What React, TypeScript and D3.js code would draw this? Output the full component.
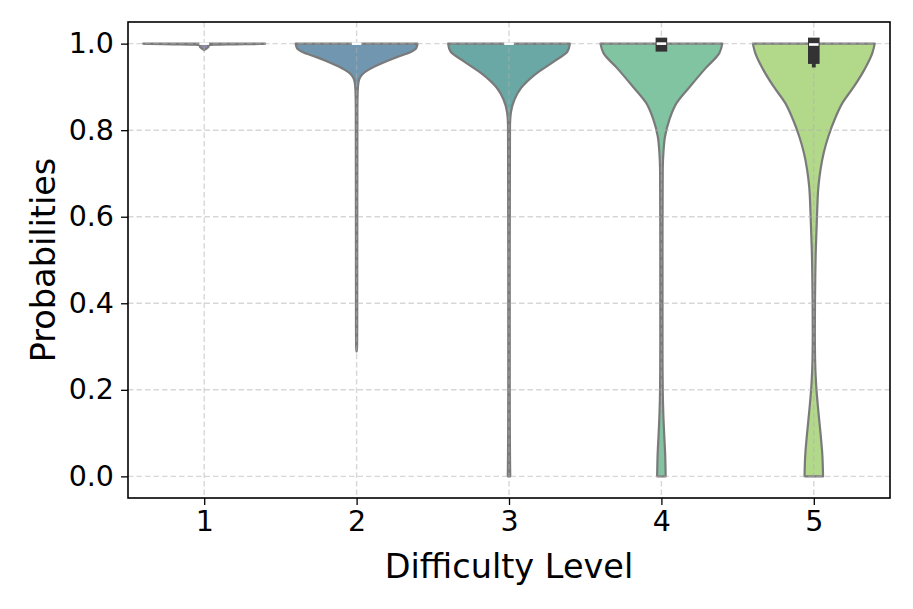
import { useRef, useEffect } from "react";
import * as d3 from "d3";

const levels = ["1", "2", "3", "4", "5"];
const colors = ["#8e8aa8", "#7096b0", "#6aa8a5", "#80c4a2", "#b2d88a"];
const yTicks = [0, 0.2, 0.4, 0.6, 0.8, 1.0];

// [probability, relative half-width]
const level1: [number, number][] = [
  [1.0, 1.0], [0.9992, 0.9], [0.9984, 0.5], [0.9975, 0.15], [0.996, 0.06],
  [0.993, 0.07], [0.99, 0.05], [0.987, 0.02], [0.985, 0],
];
const level2: [number, number][] = [
  [1.0, 1.0], [0.99, 0.98], [0.98, 0.88], [0.97, 0.68], [0.96, 0.5],
  [0.95, 0.34], [0.94, 0.2], [0.93, 0.1], [0.92, 0.05], [0.91, 0.03],
  [0.89, 0.018], [0.85, 0.013], [0.6, 0.011], [0.35, 0.01], [0.3, 0.008], [0.289, 0],
];
const level3: [number, number][] = [
  [1.0, 1.0], [0.982, 0.96], [0.959, 0.74], [0.928, 0.42], [0.898, 0.2],
  [0.871, 0.09], [0.84, 0.03], [0.81, 0.016], [0.5, 0.012], [0.2, 0.012],
  [0.05, 0.016], [0.0, 0.02],
];
const level4: [number, number][] = [
  [1.0, 1.0], [0.978, 0.95], [0.944, 0.73], [0.901, 0.47], [0.863, 0.25],
  [0.824, 0.13], [0.786, 0.06], [0.748, 0.033], [0.709, 0.022], [0.5, 0.018],
  [0.3, 0.018], [0.2, 0.022], [0.15, 0.03], [0.1, 0.045], [0.05, 0.062], [0.0, 0.07],
];
const level5: [number, number][] = [
  [1.0, 1.0], [0.978, 0.96], [0.94, 0.83], [0.901, 0.66], [0.863, 0.47],
  [0.824, 0.34], [0.786, 0.24], [0.748, 0.163], [0.709, 0.11], [0.67, 0.076],
  [0.609, 0.054], [0.524, 0.033], [0.409, 0.02], [0.333, 0.017], [0.27, 0.021],
  [0.208, 0.04], [0.15, 0.075], [0.1, 0.11], [0.05, 0.14], [0.0, 0.152],
];
const profiles = [level1, level2, level3, level4, level5];

// inner box stats
const medians = [1.0, 1.0, 1.0, 1.0, 0.998];
const q1s = [1.0, 1.0, 1.0, 0.9954, 0.967];
const q3s = [1.0, 1.0, 1.0, 1.0, 1.0];
const whiskerLows = [1.0, 1.0, 1.0, 0.9954, 0.945];

const W = 913;
const H = 609;

function App() {
  const ref = useRef<SVGSVGElement | null>(null);

  useEffect(() => {
    if (!ref.current) return;

    const margin = { top: 22, right: 23, bottom: 111, left: 128 };
    const innerWidth = W - margin.left - margin.right;
    const innerHeight = H - margin.top - margin.bottom;
    const font = "DejaVu Sans, sans-serif";

    const svg = d3.select(ref.current).html("");
    const g = svg
      .append("g")
      .attr("transform", `translate(${margin.left},${margin.top})`);

    const x = d3.scaleLinear().domain([-0.5, levels.length - 0.5]).range([0, innerWidth]);
    const y = d3.scaleLinear().domain([-0.05, 1.05]).range([innerHeight, 0]);
    const step = x(1) - x(0);
    const w = d3.scaleLinear().domain([0, 1]).range([0, 0.4 * step]);

    // violins
    profiles.forEach((prof, i) => {
      const area = d3
        .area<[number, number]>()
        .y((d) => y(d[0]))
        .x0((d) => x(i) - w(d[1]))
        .x1((d) => x(i) + w(d[1]))
        .curve(d3.curveMonotoneY);
      g.append("path")
        .datum(prof)
        .attr("d", area as any)
        .attr("fill", colors[i])
        .attr("stroke", "#7a7a7a")
        .attr("stroke-width", 2.2)
        .attr("stroke-linejoin", "round");
    });

    // grid on top of bodies
    const grid = g.append("g")
      .attr("stroke", "#b0b0b0")
      .attr("stroke-opacity", 0.5)
      .attr("stroke-width", 1.4)
      .attr("stroke-dasharray", "5.5,3");
    yTicks.forEach((t) => {
      grid.append("line").attr("x1", 0).attr("x2", innerWidth).attr("y1", y(t)).attr("y2", y(t));
    });
    levels.forEach((_, i) => {
      grid.append("line").attr("x1", x(i)).attr("x2", x(i)).attr("y1", 0).attr("y2", innerHeight);
    });

    // inner boxes
    levels.forEach((_, i) => {
      const cx = x(i);
      if (whiskerLows[i] < q1s[i]) {
        g.append("line")
          .attr("x1", cx).attr("x2", cx)
          .attr("y1", y(q1s[i])).attr("y2", y(whiskerLows[i]))
          .attr("stroke", "#333333")
          .attr("stroke-width", 3.8);
      }
      if (q1s[i] < q3s[i]) {
        g.append("rect")
          .attr("x", cx - 5.8)
          .attr("width", 11.6)
          .attr("y", y(q3s[i]) - 6)
          .attr("height", y(q1s[i]) - y(q3s[i]) + 12)
          .attr("fill", "#333333");
      }
      g.append("rect")
        .attr("x", cx - 4.8)
        .attr("width", 9.6)
        .attr("y", y(medians[i]) - 1.3)
        .attr("height", 2.6)
        .attr("fill", "#ffffff");
    });

    // axes
    const yAxis = g.append("g")
      .call(d3.axisLeft(y).tickValues(yTicks).tickFormat(d3.format(".1f")).tickSize(7).tickPadding(7));
    yAxis.select(".domain").remove();
    yAxis.selectAll("line").attr("stroke", "#000").attr("stroke-width", 1.3);
    yAxis.selectAll("text").attr("font-family", font).attr("font-size", 28.5).attr("fill", "#000");

    const xAxis = g.append("g")
      .attr("transform", `translate(0,${innerHeight})`)
      .call(
        d3.axisBottom(x)
          .tickValues(levels.map((_, i) => i))
          .tickFormat((d: any) => levels[d])
          .tickSize(7)
          .tickPadding(6)
      );
    xAxis.select(".domain").remove();
    xAxis.selectAll("line").attr("stroke", "#000").attr("stroke-width", 1.3);
    xAxis.selectAll("text").attr("font-family", font).attr("font-size", 28.5).attr("fill", "#000");

    // frame
    g.append("rect")
      .attr("width", innerWidth)
      .attr("height", innerHeight)
      .attr("fill", "none")
      .attr("stroke", "#000")
      .attr("stroke-width", 1.6);

    // labels
    svg.append("text")
      .attr("x", margin.left + innerWidth / 2)
      .attr("y", 578)
      .attr("text-anchor", "middle")
      .attr("font-family", font)
      .attr("font-size", 33.5)
      .text("Difficulty Level");

    svg.append("text")
      .attr("transform", `translate(55,${margin.top + innerHeight / 2}) rotate(-90)`)
      .attr("text-anchor", "middle")
      .attr("font-family", font)
      .attr("font-size", 33.5)
      .text("Probabilities");
  }, []);

  return (
    <svg
      ref={ref}
      width={W}
      height={H}
      style={{ position: "absolute", left: 0, top: 0, background: "#fff" }}
    ></svg>
  );
}

export default App;
